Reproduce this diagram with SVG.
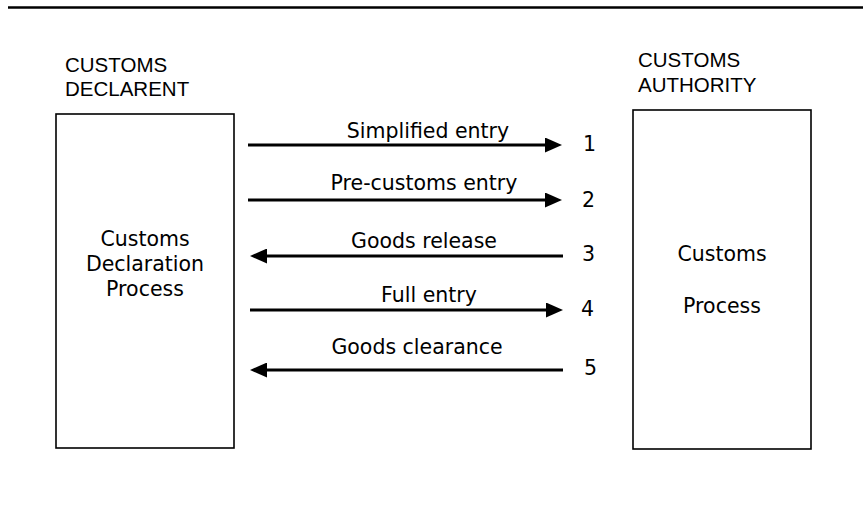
<svg xmlns="http://www.w3.org/2000/svg" width="863" height="517" viewBox="0 0 863 517">
  <defs>
    <style>
      .hdr { font-family: "Liberation Sans", Arial, sans-serif; font-size: 20.5px; fill: #000; }
      .txt { font-family: "DejaVu Sans", Verdana, sans-serif; font-size: 20.5px; fill: #000; }
      .box { fill: #fff; stroke: #000; stroke-width: 1.6; }
      .arr { stroke: #000; stroke-width: 3; fill: none; marker-end: url(#head); }
    </style>
    <marker id="head" markerUnits="userSpaceOnUse" markerWidth="17" markerHeight="15" refX="3" refY="7.5" orient="auto">
      <path d="M0,0 L17,7.5 L0,15 z" fill="#000"/>
    </marker>
  </defs>
  <rect width="863" height="517" fill="#fff"/>
  <line x1="8" y1="7.5" x2="863" y2="7.5" stroke="#000" stroke-width="2.5"/>

  <g id="declarant">
    <text class="hdr" x="65" y="72">CUSTOMS</text>
    <text class="hdr" x="65" y="96">DECLARENT</text>
    <rect class="box" x="56" y="114" width="178" height="334"/>
    <text class="txt" x="145" y="246" text-anchor="middle">Customs</text>
    <text class="txt" x="145" y="271" text-anchor="middle">Declaration</text>
    <text class="txt" x="145" y="296" text-anchor="middle">Process</text>
  </g>

  <g id="authority">
    <text class="hdr" x="638" y="67">CUSTOMS</text>
    <text class="hdr" x="638" y="92">AUTHORITY</text>
    <rect class="box" x="633" y="110" width="178" height="339"/>
    <text class="txt" x="722" y="261" text-anchor="middle">Customs</text>
    <text class="txt" x="722" y="313" text-anchor="middle">Process</text>
  </g>

  <g id="connectors">
    <line class="arr" x1="248" y1="145" x2="548" y2="145"/>
    <text class="txt" x="428" y="138" text-anchor="middle">Simplified entry</text>
    <text class="txt" x="583" y="151">1</text>

    <line class="arr" x1="248" y1="200" x2="548" y2="200"/>
    <text class="txt" x="424" y="190" text-anchor="middle">Pre-customs entry</text>
    <text class="txt" x="582" y="207">2</text>

    <line class="arr" x1="563" y1="256" x2="264" y2="256"/>
    <text class="txt" x="424" y="248" text-anchor="middle">Goods release</text>
    <text class="txt" x="582" y="261">3</text>

    <line class="arr" x1="250" y1="310" x2="549" y2="310"/>
    <text class="txt" x="429" y="302" text-anchor="middle">Full entry</text>
    <text class="txt" x="581" y="316">4</text>

    <line class="arr" x1="563" y1="370" x2="264" y2="370"/>
    <text class="txt" x="417" y="354" text-anchor="middle">Goods clearance</text>
    <text class="txt" x="584" y="375">5</text>
  </g>
</svg>
